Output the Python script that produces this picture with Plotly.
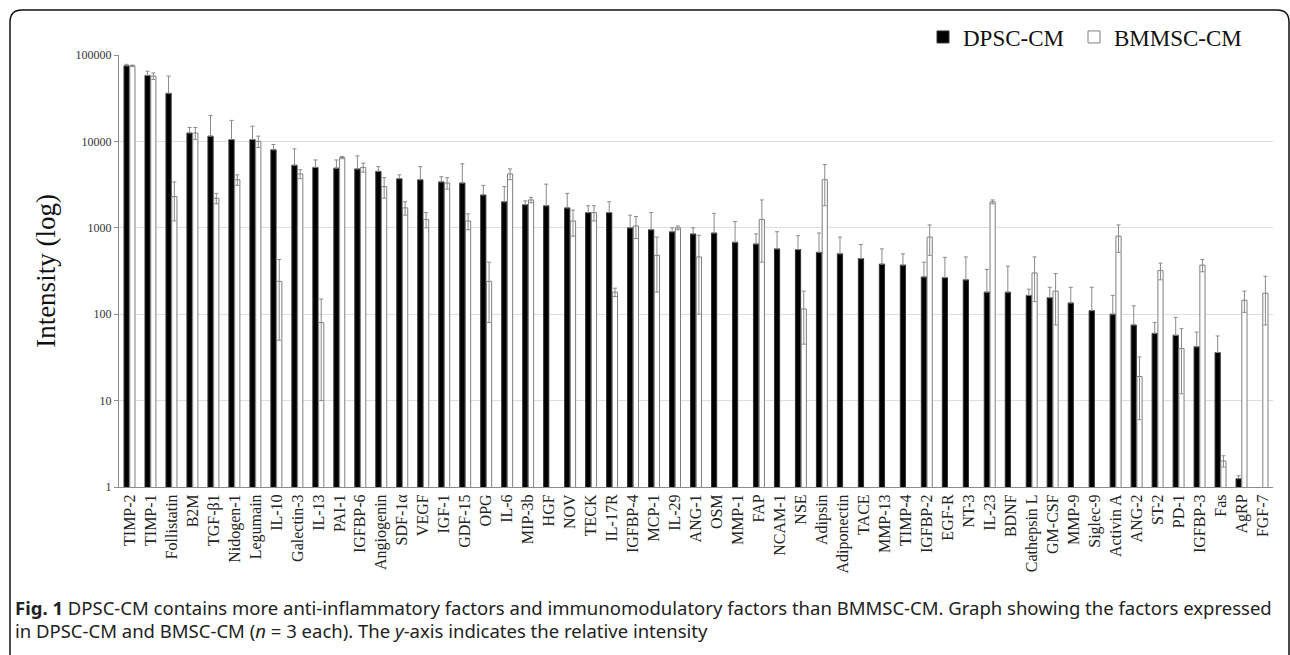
import plotly.graph_objects as go

factors = ["TIMP-2", "TIMP-1", "Follistatin", "B2M", "TGF-β1", "Nidogen-1", "Legumain", "IL-10",
           "Galectin-3", "IL-13", "PAI-1", "IGFBP-6", "Angiogenin", "SDF-1α", "VEGF", "IGF-1",
           "GDF-15", "OPG", "IL-6", "MIP-3b", "HGF", "NOV", "TECK", "IL-17R", "IGFBP-4", "MCP-1",
           "IL-29", "ANG-1", "OSM", "MMP-1", "FAP", "NCAM-1", "NSE", "Adipsin", "Adiponectin",
           "TACE", "MMP-13", "TIMP-4", "IGFBP-2", "EGF-R", "NT-3", "IL-23", "BDNF", "Cathepsin L",
           "GM-CSF", "MMP-9", "Siglec-9", "Activin A", "ANG-2", "ST-2", "PD-1", "IGFBP-3", "Fas",
           "AgRP", "FGF-7"]

dpsc = [75000, 58000, 36000, 12500, 11500, 10500, 10500, 8000,
        5300, 5000, 4900, 4800, 4500, 3700, 3600, 3400,
        3300, 2400, 2000, 1850, 1800, 1700, 1500, 1500, 1000, 950,
        900, 850, 870, 680, 650, 570, 560, 520, 500,
        440, 380, 370, 270, 265, 250, 180, 180, 165,
        155, 135, 110, 100, 75, 60, 57, 42, 36,
        1.25, None]
dpsc_err = [3000, 7000, 21000, 2000, 8500, 7000, 4500, 1200,
            2900, 1100, 1200, 2000, 600, 400, 1500, 500,
            2200, 700, 1000, 200, 1400, 800, 300, 500, 400, 550,
            100, 150, 600, 500, 200, 330, 250, 350, 280,
            200, 190, 130, 130, 190, 210, 150, 180, 30,
            50, 70, 95, 65, 50, 20, 35, 20, 20,
            0.1, 0]

bmmsc = [75000, 57000, 2300, 12500, 2200, 3600, 10000, 240,
         4200, 80, 6500, 5000, 3000, 1700, 1250, 3300,
         1200, 240, 4200, 2100, None, 1200, 1500, 180, 1050, 480,
         1000, 460, None, None, 1250, None, 115, 3600, None,
         None, None, None, 780, None, None, 2000, None, 300,
         185, None, None, 800, 19, 320, 40, 370, 2.0,
         145, 175]
bmmsc_err = [1500, 5000, 1100, 2000, 300, 500, 1500, 190,
             500, 70, 200, 600, 800, 300, 250, 500,
             250, 160, 600, 150, 0, 400, 300, 20, 300, 300,
             50, 360, 0, 0, 850, 0, 70, 1800, 0,
             0, 0, 0, 300, 0, 0, 100, 0, 160,
             110, 0, 0, 280, 13, 70, 28, 60, 0.3,
             40, 100]

W, H = 1290, 655
L, R, T, B = 119, 1273, 55, 487


def px(xp):
    return (xp - L) / (R - L)


def py(yp):
    return (B - yp) / (B - T)


serif = "Liberation Serif, Times New Roman, serif"
sans = "Noto Sans, Open Sans, sans-serif"

fig = go.Figure()
fig.add_trace(go.Bar(
    name="DPSC-CM", x=factors, y=dpsc, legend="legend",
    marker=dict(color="#000000", line=dict(color="#333333", width=1)),
    error_y=dict(type="data", array=dpsc_err, symmetric=False,
                 arrayminus=[0] * len(dpsc_err), color="#8a8a8a", thickness=1, width=2),
))
fig.add_trace(go.Bar(
    name="BMMSC-CM", x=factors, y=bmmsc, legend="legend2",
    marker=dict(color="#ffffff", line=dict(color="#7f7f7f", width=1)),
    error_y=dict(type="data", array=bmmsc_err, symmetric=True,
                 color="#8a8a8a", thickness=1, width=2),
))

# rounded frame around the figure
x0, x1 = px(10), px(1289)
y0, y1 = py(10), py(700)
rx = 12 / (R - L)
ry = 12 / (B - T)
frame = (f"M {x0},{y1} L {x0},{y0 - ry} Q {x0},{y0} {x0 + rx},{y0} "
         f"L {x1 - rx},{y0} Q {x1},{y0} {x1},{y0 - ry} L {x1},{y1}")

legend_style = dict(orientation="h", yanchor="middle", xanchor="right", y=py(37),
                    font=dict(family=serif, size=23, color="#111111"),
                    bgcolor="rgba(0,0,0,0)", itemwidth=30)

fig.update_layout(
    width=W, height=H,
    margin=dict(l=L, r=W - R, t=T, b=H - B, autoexpand=False),
    paper_bgcolor="white", plot_bgcolor="white",
    barmode="group", bargap=0.45, bargroupgap=0.1,
    showlegend=True,
    legend=dict(x=px(1069), **legend_style),
    legend2=dict(x=px(1247), **legend_style),
    shapes=[dict(type="path", path=frame, xref="paper", yref="paper",
                 line=dict(color="#111111", width=1.5), layer="above")],
    annotations=[
        dict(text="<b>Fig. 1</b> DPSC-CM contains more anti-inflammatory factors and immunomodulatory "
                  "factors than BMMSC-CM. Graph showing the factors expressed",
             xref="paper", yref="paper", x=px(13), y=py(607), xanchor="left", yanchor="middle",
             showarrow=False, font=dict(family=sans, size=18.5, color="#222222")),
        dict(text="in DPSC-CM and BMSC-CM (<i>n</i> = 3 each). The <i>y</i>-axis indicates the relative intensity",
             xref="paper", yref="paper", x=px(13), y=py(630), xanchor="left", yanchor="middle",
             showarrow=False, font=dict(family=sans, size=18.5, color="#222222")),
    ],
)

fig.update_xaxes(
    type="category", tickangle=-90,
    tickfont=dict(family=serif, size=16, color="#222222"),
    showline=True, linecolor="#8c8c8c", linewidth=1,
    ticks="", showgrid=False, range=[-0.5, len(factors) - 0.5],
)
fig.update_yaxes(
    type="log", range=[0, 5],
    tickvals=[1, 10, 100, 1000, 10000, 100000],
    ticktext=["1", "10", "100", "1000", "10000", "100000"],
    tickfont=dict(family=serif, size=12, color="#333333"),
    showline=True, linecolor="#8c8c8c", linewidth=1,
    ticks="outside", ticklen=4, tickcolor="#8c8c8c",
    showgrid=True, gridcolor="#dedede", gridwidth=1,
    title=dict(text="Intensity (log)", font=dict(family=serif, size=27, color="#111111"), standoff=12),
)

fig.write_html("out.html", config={"displayModeBar": False},
               post_script="document.body.style.margin='0';")
